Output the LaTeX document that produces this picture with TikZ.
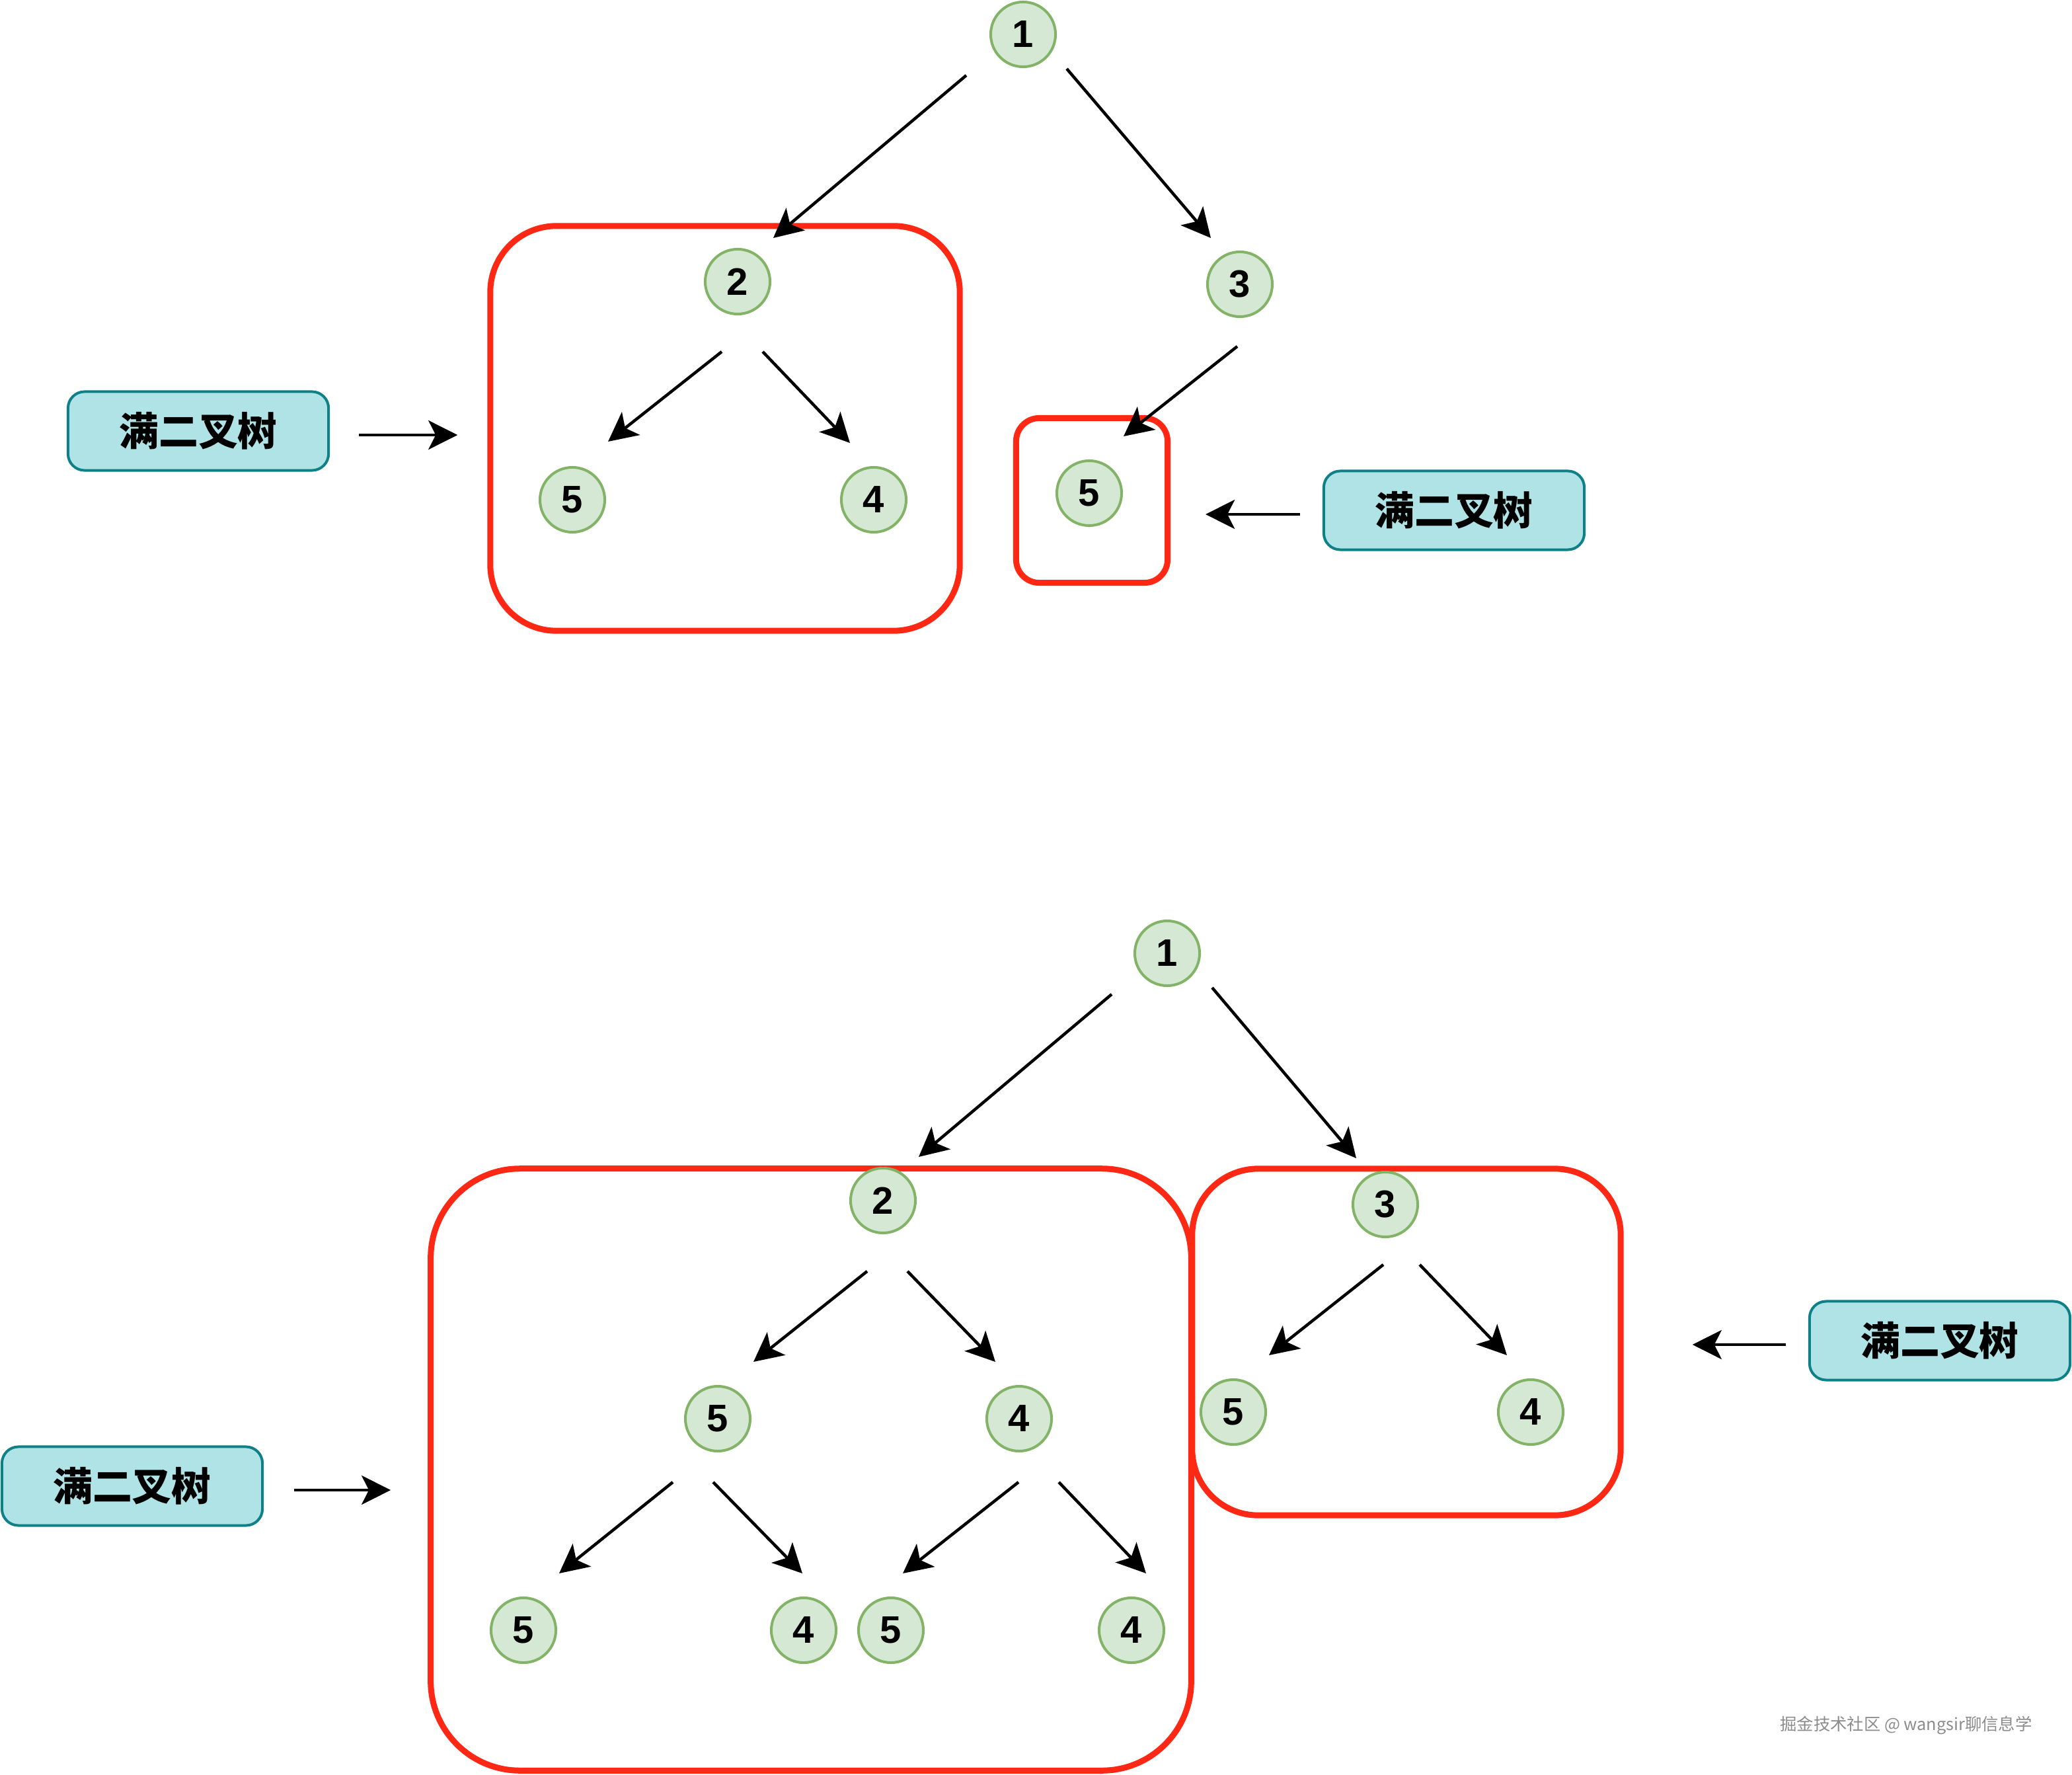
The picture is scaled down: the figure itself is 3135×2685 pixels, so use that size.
\documentclass[tikz,border=0pt]{standalone}
\usepackage{fontspec}
\setmainfont{Liberation Sans}
\newfontfamily\cjk{Noto Sans CJK SC}
\usetikzlibrary{arrows.meta}
\definecolor{nodefill}{HTML}{D5E8D4}
\definecolor{nodeline}{HTML}{82B366}
\definecolor{labfill}{HTML}{B0E3E6}
\definecolor{labline}{HTML}{0E8088}
\definecolor{boxred}{RGB}{255,40,20}
\tikzset{tnode/.style={draw=nodeline,fill=nodefill,circle,line width=0.04cm,minimum size=0.98cm,inner sep=0pt,font=\fontsize{16.5}{18}\selectfont\bfseries}}
\tikzset{lab/.style={draw=labline,fill=labfill,rounded corners=0.25cm,line width=0.04cm,minimum width=3.94cm,minimum height=1.19cm,font=\cjk\bfseries\fontsize{17}{20}\selectfont}}
\tikzset{redbox/.style={draw=boxred,line width=0.09cm,inner sep=0pt}}
\tikzset{arr/.style={-{Stealth[length=0.44cm,width=0.44cm,inset=0.11cm]},line width=0.045cm}}

\begin{document}
\begin{tikzpicture}[x=0.01cm,y=-0.01cm]
    \useasboundingbox (0,0) rectangle (3135,2685);

    % red frames
    \node[redbox,rounded corners=1cm,minimum width=7.1cm,minimum height=6.12cm] (r1) at (1097,648) {};
    \node[redbox,rounded corners=0.35cm,minimum width=2.29cm,minimum height=2.49cm] (r2) at (1652,757) {};
    \node[redbox,rounded corners=1.35cm,minimum width=11.5cm,minimum height=9.1cm] (r3) at (1227,2223) {};
    \node[redbox,rounded corners=1cm,minimum width=6.48cm,minimum height=5.24cm] (r4) at (2128,2030) {};

    % upper tree
    \node[tnode] (a1) at (1548,52) {1};
    \node[tnode] (a2) at (1116,426) {2};
    \node[tnode] (a3) at (1876,430) {3};
    \node[tnode] (a25) at (866,756) {5};
    \node[tnode] (a24) at (1322,756) {4};
    \node[tnode] (a35) at (1648,746) {5};

    \draw[arr] ([shift={(-86,62)}]a1.center) -- ([shift={(54,-66)}]a2.center);
    \draw[arr] ([shift={(66,52)}]a1.center) -- ([shift={(-44,-70)}]a3.center);
    \draw[arr] ([shift={(-24,106)}]a2.center) -- ([shift={(54,-88)}]a25.center);
    \draw[arr] ([shift={(38,106)}]a2.center) -- ([shift={(-36,-86)}]a24.center);
    \draw[arr] ([shift={(-4,94)}]a3.center) -- ([shift={(52,-86)}]a35.center);

    % lower tree
    \node[tnode] (b1) at (1766,1442) {1};
    \node[tnode] (b2) at (1336,1816) {2};
    \node[tnode] (b3) at (2096,1822) {3};
    \node[tnode] (b25) at (1086,2146) {5};
    \node[tnode] (b24) at (1542,2146) {4};
    \node[tnode] (b255) at (792,2466) {5};
    \node[tnode] (b254) at (1216,2466) {4};
    \node[tnode] (b245) at (1348,2466) {5};
    \node[tnode] (b244) at (1712,2466) {4};
    \node[tnode] (b35) at (1866,2136) {5};
    \node[tnode] (b34) at (2316,2136) {4};

    \draw[arr] ([shift={(-84,62)}]b1.center) -- ([shift={(54,-66)}]b2.center);
    \draw[arr] ([shift={(68,52)}]b1.center) -- ([shift={(-44,-70)}]b3.center);
    \draw[arr] ([shift={(-24,107)}]b2.center) -- ([shift={(54,-86)}]b25.center);
    \draw[arr] ([shift={(37,107)}]b2.center) -- ([shift={(-36,-86)}]b24.center);
    \draw[arr] ([shift={(-68,96)}]b25.center) -- ([shift={(54,-86)}]b255.center);
    \draw[arr] ([shift={(-7,96)}]b25.center) -- ([shift={(-2,-86)}]b254.center);
    \draw[arr] ([shift={(-1,96)}]b24.center) -- ([shift={(18,-86)}]b245.center);
    \draw[arr] ([shift={(60,96)}]b24.center) -- ([shift={(22,-86)}]b244.center);
    \draw[arr] ([shift={(-3,91)}]b3.center) -- ([shift={(54,-86)}]b35.center);
    \draw[arr] ([shift={(52,91)}]b3.center) -- ([shift={(-36,-86)}]b34.center);

    % labels
    \node[lab] (lab1) at (300,652) {满二叉树};
    \node[lab] (lab2) at (2200,772) {满二叉树};
    \node[lab] (lab3) at (200,2248) {满二叉树};
    \node[lab] (lab4) at (2935,2028) {满二叉树};

    \draw[arr,shorten <=0.44cm,shorten >=0.45cm] ([yshift=-0.06cm]lab1.east) -- ([yshift=-0.06cm]lab1.east -| r1.west);
    \draw[arr,shorten <=0.34cm,shorten >=0.53cm] ([yshift=-0.06cm]lab2.west) -- ([yshift=-0.06cm]lab2.west -| r2.east);
    \draw[arr,shorten <=0.46cm,shorten >=0.56cm] ([yshift=-0.06cm]lab3.east) -- ([yshift=-0.06cm]lab3.east -| r3.west);
    \draw[arr,shorten <=0.34cm,shorten >=1.04cm] ([yshift=-0.06cm]lab4.west) -- ([yshift=-0.06cm]lab4.west -| r4.east);

    \node[font=\cjk\fontsize{7.2}{8}\selectfont,text=black!45] (mark) at (2884,2610) {掘金技术社区 @ wangsir聊信息学};

\end{tikzpicture}
\end{document}
